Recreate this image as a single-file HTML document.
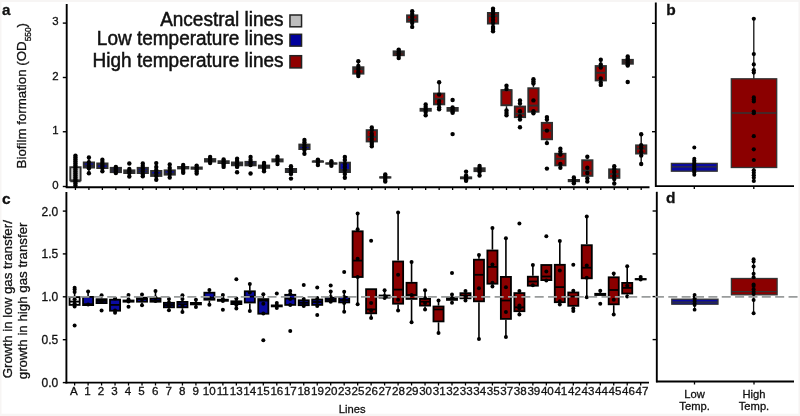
<!DOCTYPE html><html><head><meta charset="utf-8"><style>
html,body{margin:0;padding:0;background:#fff;}
body{width:800px;height:416px;overflow:hidden;position:relative;}
svg{position:absolute;left:0;top:0;will-change:transform;}
text{font-family:"Liberation Sans",sans-serif;fill:#111;stroke:#111;stroke-width:0.3px;}
text.lg{stroke-width:0.5px;}
</style></head><body>
<svg width="800" height="416" viewBox="0 0 800 416">
<rect x="0" y="0" width="800" height="416" fill="#fff"/>
<rect x="0" y="0" width="800" height="2" fill="#f7f5f4"/>
<rect x="0" y="413.7" width="800" height="2.3" fill="#f7f5f4"/>
<rect x="0" y="0" width="1.5" height="416" fill="#f7f5f4"/>
<rect x="798.5" y="0" width="1.5" height="416" fill="#f6f4f3"/>
<line x1="62.8" y1="186.5" x2="66" y2="186.5" stroke="#000" stroke-width="1.4"/>
<text x="58.6" y="189.2" font-size="11.4" text-anchor="end">0</text>
<line x1="62.8" y1="131.75" x2="66" y2="131.75" stroke="#000" stroke-width="1.4"/>
<text x="58.6" y="133.9" font-size="11.4" text-anchor="end">1</text>
<line x1="62.8" y1="77.5" x2="66" y2="77.5" stroke="#000" stroke-width="1.4"/>
<text x="58.6" y="79.7" font-size="11.4" text-anchor="end">2</text>
<line x1="62.8" y1="23.1" x2="66" y2="23.1" stroke="#000" stroke-width="1.4"/>
<text x="58.6" y="24.8" font-size="11.4" text-anchor="end">3</text>
<line x1="75.44" y1="187" x2="75.44" y2="190" stroke="#000" stroke-width="1.3"/>
<line x1="88.91" y1="187" x2="88.91" y2="190" stroke="#000" stroke-width="1.3"/>
<line x1="102.38" y1="187" x2="102.38" y2="190" stroke="#000" stroke-width="1.3"/>
<line x1="115.85" y1="187" x2="115.85" y2="190" stroke="#000" stroke-width="1.3"/>
<line x1="129.32" y1="187" x2="129.32" y2="190" stroke="#000" stroke-width="1.3"/>
<line x1="142.79" y1="187" x2="142.79" y2="190" stroke="#000" stroke-width="1.3"/>
<line x1="156.26" y1="187" x2="156.26" y2="190" stroke="#000" stroke-width="1.3"/>
<line x1="169.73" y1="187" x2="169.73" y2="190" stroke="#000" stroke-width="1.3"/>
<line x1="183.20" y1="187" x2="183.20" y2="190" stroke="#000" stroke-width="1.3"/>
<line x1="196.67" y1="187" x2="196.67" y2="190" stroke="#000" stroke-width="1.3"/>
<line x1="210.14" y1="187" x2="210.14" y2="190" stroke="#000" stroke-width="1.3"/>
<line x1="223.62" y1="187" x2="223.62" y2="190" stroke="#000" stroke-width="1.3"/>
<line x1="237.09" y1="187" x2="237.09" y2="190" stroke="#000" stroke-width="1.3"/>
<line x1="250.56" y1="187" x2="250.56" y2="190" stroke="#000" stroke-width="1.3"/>
<line x1="264.03" y1="187" x2="264.03" y2="190" stroke="#000" stroke-width="1.3"/>
<line x1="277.50" y1="187" x2="277.50" y2="190" stroke="#000" stroke-width="1.3"/>
<line x1="290.97" y1="187" x2="290.97" y2="190" stroke="#000" stroke-width="1.3"/>
<line x1="304.44" y1="187" x2="304.44" y2="190" stroke="#000" stroke-width="1.3"/>
<line x1="317.91" y1="187" x2="317.91" y2="190" stroke="#000" stroke-width="1.3"/>
<line x1="331.38" y1="187" x2="331.38" y2="190" stroke="#000" stroke-width="1.3"/>
<line x1="344.85" y1="187" x2="344.85" y2="190" stroke="#000" stroke-width="1.3"/>
<line x1="358.32" y1="187" x2="358.32" y2="190" stroke="#000" stroke-width="1.3"/>
<line x1="371.79" y1="187" x2="371.79" y2="190" stroke="#000" stroke-width="1.3"/>
<line x1="385.26" y1="187" x2="385.26" y2="190" stroke="#000" stroke-width="1.3"/>
<line x1="398.73" y1="187" x2="398.73" y2="190" stroke="#000" stroke-width="1.3"/>
<line x1="412.20" y1="187" x2="412.20" y2="190" stroke="#000" stroke-width="1.3"/>
<line x1="425.67" y1="187" x2="425.67" y2="190" stroke="#000" stroke-width="1.3"/>
<line x1="439.14" y1="187" x2="439.14" y2="190" stroke="#000" stroke-width="1.3"/>
<line x1="452.61" y1="187" x2="452.61" y2="190" stroke="#000" stroke-width="1.3"/>
<line x1="466.08" y1="187" x2="466.08" y2="190" stroke="#000" stroke-width="1.3"/>
<line x1="479.56" y1="187" x2="479.56" y2="190" stroke="#000" stroke-width="1.3"/>
<line x1="493.03" y1="187" x2="493.03" y2="190" stroke="#000" stroke-width="1.3"/>
<line x1="506.50" y1="187" x2="506.50" y2="190" stroke="#000" stroke-width="1.3"/>
<line x1="519.97" y1="187" x2="519.97" y2="190" stroke="#000" stroke-width="1.3"/>
<line x1="533.44" y1="187" x2="533.44" y2="190" stroke="#000" stroke-width="1.3"/>
<line x1="546.91" y1="187" x2="546.91" y2="190" stroke="#000" stroke-width="1.3"/>
<line x1="560.38" y1="187" x2="560.38" y2="190" stroke="#000" stroke-width="1.3"/>
<line x1="573.85" y1="187" x2="573.85" y2="190" stroke="#000" stroke-width="1.3"/>
<line x1="587.32" y1="187" x2="587.32" y2="190" stroke="#000" stroke-width="1.3"/>
<line x1="600.79" y1="187" x2="600.79" y2="190" stroke="#000" stroke-width="1.3"/>
<line x1="614.26" y1="187" x2="614.26" y2="190" stroke="#000" stroke-width="1.3"/>
<line x1="627.73" y1="187" x2="627.73" y2="190" stroke="#000" stroke-width="1.3"/>
<line x1="641.20" y1="187" x2="641.20" y2="190" stroke="#000" stroke-width="1.3"/>
<line x1="75.44" y1="155.60" x2="75.44" y2="166.30" stroke="#111" stroke-width="1.4"/>
<line x1="75.44" y1="181.30" x2="75.44" y2="185.60" stroke="#111" stroke-width="1.4"/>
<rect x="70.29" y="167.25" width="10.30" height="13.10" fill="#d2d2d2" stroke="#2e2e2e" stroke-width="1.9"/>
<line x1="70.29" y1="181.30" x2="80.59" y2="181.30" stroke="#2e2e2e" stroke-width="1.9"/>
<circle cx="75.44" cy="155.60" r="2.2"/>
<circle cx="75.44" cy="157.50" r="2.2"/>
<circle cx="75.44" cy="159.50" r="2.2"/>
<circle cx="75.44" cy="161.50" r="2.2"/>
<circle cx="75.44" cy="163.50" r="2.2"/>
<circle cx="75.44" cy="165.50" r="2.2"/>
<circle cx="75.44" cy="167.50" r="2.2"/>
<circle cx="75.44" cy="169.50" r="2.2"/>
<circle cx="75.44" cy="171.50" r="2.2"/>
<circle cx="75.44" cy="173.50" r="2.2"/>
<circle cx="75.44" cy="175.50" r="2.2"/>
<circle cx="75.44" cy="177.50" r="2.2"/>
<circle cx="75.44" cy="179.50" r="2.2"/>
<circle cx="75.44" cy="181.50" r="2.2"/>
<circle cx="75.44" cy="183.50" r="2.2"/>
<circle cx="75.44" cy="185.60" r="2.2"/>
<line x1="88.91" y1="157.50" x2="88.91" y2="161.50" stroke="#111" stroke-width="1.4"/>
<line x1="88.91" y1="168.50" x2="88.91" y2="173.20" stroke="#111" stroke-width="1.4"/>
<rect x="83.76" y="162.45" width="10.30" height="5.10" fill="#0c0ca4" stroke="#2e2e2e" stroke-width="1.9"/>
<line x1="83.76" y1="165.60" x2="94.06" y2="165.60" stroke="#2e2e2e" stroke-width="1.9"/>
<circle cx="88.91" cy="157.50" r="2.2"/>
<circle cx="88.91" cy="162.20" r="2.2"/>
<circle cx="88.91" cy="165.80" r="2.2"/>
<circle cx="88.91" cy="168.30" r="2.2"/>
<circle cx="88.91" cy="173.20" r="2.2"/>
<line x1="102.38" y1="159.75" x2="102.38" y2="162.50" stroke="#111" stroke-width="1.4"/>
<line x1="102.38" y1="169.00" x2="102.38" y2="171.25" stroke="#111" stroke-width="1.4"/>
<rect x="97.23" y="163.45" width="10.30" height="4.60" fill="#0c0ca4" stroke="#2e2e2e" stroke-width="1.9"/>
<line x1="97.23" y1="164.40" x2="107.53" y2="164.40" stroke="#2e2e2e" stroke-width="1.9"/>
<circle cx="102.38" cy="159.75" r="2.2"/>
<circle cx="102.38" cy="162.00" r="2.2"/>
<circle cx="102.38" cy="164.00" r="2.2"/>
<circle cx="102.38" cy="166.00" r="2.2"/>
<circle cx="102.38" cy="168.00" r="2.2"/>
<circle cx="102.38" cy="171.25" r="2.2"/>
<rect x="110.70" y="167.85" width="10.30" height="4.30" fill="#0c0ca4" stroke="#2e2e2e" stroke-width="1.9"/>
<line x1="110.70" y1="170.00" x2="121.00" y2="170.00" stroke="#2e2e2e" stroke-width="1.9"/>
<circle cx="115.85" cy="167.00" r="2.2"/>
<circle cx="115.85" cy="169.00" r="2.2"/>
<circle cx="115.85" cy="171.00" r="2.2"/>
<circle cx="115.85" cy="173.00" r="2.2"/>
<line x1="129.32" y1="169.00" x2="129.32" y2="169.40" stroke="#111" stroke-width="1.4"/>
<line x1="129.32" y1="174.00" x2="129.32" y2="176.50" stroke="#111" stroke-width="1.4"/>
<rect x="124.17" y="170.35" width="10.30" height="2.70" fill="#0c0ca4" stroke="#2e2e2e" stroke-width="1.9"/>
<line x1="124.17" y1="172.00" x2="134.47" y2="172.00" stroke="#2e2e2e" stroke-width="1.9"/>
<circle cx="129.32" cy="169.00" r="2.2"/>
<circle cx="129.32" cy="171.00" r="2.2"/>
<circle cx="129.32" cy="173.00" r="2.2"/>
<circle cx="129.32" cy="176.50" r="2.2"/>
<circle cx="129.32" cy="163.50" r="2.2"/>
<line x1="142.79" y1="163.50" x2="142.79" y2="166.90" stroke="#111" stroke-width="1.4"/>
<line x1="142.79" y1="174.00" x2="142.79" y2="176.25" stroke="#111" stroke-width="1.4"/>
<rect x="137.64" y="167.85" width="10.30" height="5.20" fill="#0c0ca4" stroke="#2e2e2e" stroke-width="1.9"/>
<line x1="137.64" y1="170.50" x2="147.94" y2="170.50" stroke="#2e2e2e" stroke-width="1.9"/>
<circle cx="142.79" cy="163.50" r="2.2"/>
<circle cx="142.79" cy="166.00" r="2.2"/>
<circle cx="142.79" cy="168.50" r="2.2"/>
<circle cx="142.79" cy="171.00" r="2.2"/>
<circle cx="142.79" cy="174.00" r="2.2"/>
<circle cx="142.79" cy="176.25" r="2.2"/>
<line x1="156.26" y1="163.10" x2="156.26" y2="170.00" stroke="#111" stroke-width="1.4"/>
<line x1="156.26" y1="176.90" x2="156.26" y2="179.75" stroke="#111" stroke-width="1.4"/>
<rect x="151.11" y="170.95" width="10.30" height="5.00" fill="#0c0ca4" stroke="#2e2e2e" stroke-width="1.9"/>
<line x1="151.11" y1="174.40" x2="161.41" y2="174.40" stroke="#2e2e2e" stroke-width="1.9"/>
<circle cx="156.26" cy="163.10" r="2.2"/>
<circle cx="156.26" cy="167.00" r="2.2"/>
<circle cx="156.26" cy="170.00" r="2.2"/>
<circle cx="156.26" cy="173.00" r="2.2"/>
<circle cx="156.26" cy="176.00" r="2.2"/>
<circle cx="156.26" cy="179.75" r="2.2"/>
<line x1="169.73" y1="164.40" x2="169.73" y2="169.40" stroke="#111" stroke-width="1.4"/>
<line x1="169.73" y1="175.60" x2="169.73" y2="177.50" stroke="#111" stroke-width="1.4"/>
<rect x="164.58" y="170.35" width="10.30" height="4.30" fill="#0c0ca4" stroke="#2e2e2e" stroke-width="1.9"/>
<line x1="164.58" y1="173.50" x2="174.88" y2="173.50" stroke="#2e2e2e" stroke-width="1.9"/>
<circle cx="169.73" cy="164.40" r="2.2"/>
<circle cx="169.73" cy="168.00" r="2.2"/>
<circle cx="169.73" cy="171.00" r="2.2"/>
<circle cx="169.73" cy="174.00" r="2.2"/>
<circle cx="169.73" cy="177.50" r="2.2"/>
<line x1="183.20" y1="165.00" x2="183.20" y2="166.00" stroke="#111" stroke-width="1.4"/>
<line x1="183.20" y1="169.40" x2="183.20" y2="172.75" stroke="#111" stroke-width="1.4"/>
<rect x="178.05" y="166.95" width="10.30" height="1.50" fill="#0c0ca4" stroke="#2e2e2e" stroke-width="1.9"/>
<line x1="178.05" y1="167.70" x2="188.35" y2="167.70" stroke="#2e2e2e" stroke-width="1.9"/>
<circle cx="183.20" cy="165.00" r="2.2"/>
<circle cx="183.20" cy="167.00" r="2.2"/>
<circle cx="183.20" cy="169.00" r="2.2"/>
<circle cx="183.20" cy="171.00" r="2.2"/>
<circle cx="183.20" cy="172.75" r="2.2"/>
<line x1="196.67" y1="165.60" x2="196.67" y2="166.50" stroke="#111" stroke-width="1.4"/>
<line x1="196.67" y1="169.75" x2="196.67" y2="173.50" stroke="#111" stroke-width="1.4"/>
<rect x="191.52" y="167.45" width="10.30" height="1.35" fill="#0c0ca4" stroke="#2e2e2e" stroke-width="1.9"/>
<line x1="191.52" y1="168.00" x2="201.82" y2="168.00" stroke="#2e2e2e" stroke-width="1.9"/>
<circle cx="196.67" cy="165.60" r="2.2"/>
<circle cx="196.67" cy="167.50" r="2.2"/>
<circle cx="196.67" cy="169.50" r="2.2"/>
<circle cx="196.67" cy="171.50" r="2.2"/>
<circle cx="196.67" cy="173.50" r="2.2"/>
<line x1="210.14" y1="156.90" x2="210.14" y2="158.10" stroke="#111" stroke-width="1.4"/>
<line x1="210.14" y1="162.50" x2="210.14" y2="163.10" stroke="#111" stroke-width="1.4"/>
<rect x="204.99" y="159.05" width="10.30" height="2.50" fill="#0c0ca4" stroke="#2e2e2e" stroke-width="1.9"/>
<line x1="204.99" y1="160.30" x2="215.29" y2="160.30" stroke="#2e2e2e" stroke-width="1.9"/>
<circle cx="210.14" cy="156.90" r="2.2"/>
<circle cx="210.14" cy="159.00" r="2.2"/>
<circle cx="210.14" cy="161.00" r="2.2"/>
<circle cx="210.14" cy="163.10" r="2.2"/>
<line x1="223.62" y1="159.40" x2="223.62" y2="160.25" stroke="#111" stroke-width="1.4"/>
<line x1="223.62" y1="164.00" x2="223.62" y2="166.90" stroke="#111" stroke-width="1.4"/>
<rect x="218.47" y="161.20" width="10.30" height="1.85" fill="#0c0ca4" stroke="#2e2e2e" stroke-width="1.9"/>
<line x1="218.47" y1="162.00" x2="228.77" y2="162.00" stroke="#2e2e2e" stroke-width="1.9"/>
<circle cx="223.62" cy="159.40" r="2.2"/>
<circle cx="223.62" cy="161.50" r="2.2"/>
<circle cx="223.62" cy="163.50" r="2.2"/>
<circle cx="223.62" cy="165.00" r="2.2"/>
<circle cx="223.62" cy="166.90" r="2.2"/>
<line x1="237.09" y1="158.75" x2="237.09" y2="161.50" stroke="#111" stroke-width="1.4"/>
<line x1="237.09" y1="166.25" x2="237.09" y2="166.90" stroke="#111" stroke-width="1.4"/>
<rect x="231.94" y="162.45" width="10.30" height="2.85" fill="#0c0ca4" stroke="#2e2e2e" stroke-width="1.9"/>
<line x1="231.94" y1="164.00" x2="242.24" y2="164.00" stroke="#2e2e2e" stroke-width="1.9"/>
<circle cx="237.09" cy="158.75" r="2.2"/>
<circle cx="237.09" cy="161.00" r="2.2"/>
<circle cx="237.09" cy="163.50" r="2.2"/>
<circle cx="237.09" cy="166.00" r="2.2"/>
<circle cx="237.09" cy="166.90" r="2.2"/>
<circle cx="237.09" cy="172.25" r="2.2"/>
<line x1="250.56" y1="157.00" x2="250.56" y2="160.90" stroke="#111" stroke-width="1.4"/>
<rect x="245.41" y="161.85" width="10.30" height="3.50" fill="#0c0ca4" stroke="#2e2e2e" stroke-width="1.9"/>
<line x1="245.41" y1="164.10" x2="255.71" y2="164.10" stroke="#2e2e2e" stroke-width="1.9"/>
<circle cx="250.56" cy="157.00" r="2.2"/>
<circle cx="250.56" cy="160.00" r="2.2"/>
<circle cx="250.56" cy="162.50" r="2.2"/>
<circle cx="250.56" cy="165.00" r="2.2"/>
<circle cx="250.56" cy="173.50" r="2.2"/>
<line x1="264.03" y1="162.90" x2="264.03" y2="164.60" stroke="#111" stroke-width="1.4"/>
<line x1="264.03" y1="168.80" x2="264.03" y2="171.30" stroke="#111" stroke-width="1.4"/>
<rect x="258.88" y="165.55" width="10.30" height="2.30" fill="#0c0ca4" stroke="#2e2e2e" stroke-width="1.9"/>
<line x1="258.88" y1="166.80" x2="269.18" y2="166.80" stroke="#2e2e2e" stroke-width="1.9"/>
<circle cx="264.03" cy="162.90" r="2.2"/>
<circle cx="264.03" cy="165.00" r="2.2"/>
<circle cx="264.03" cy="167.00" r="2.2"/>
<circle cx="264.03" cy="169.00" r="2.2"/>
<circle cx="264.03" cy="171.30" r="2.2"/>
<line x1="277.50" y1="156.70" x2="277.50" y2="158.40" stroke="#111" stroke-width="1.4"/>
<line x1="277.50" y1="162.40" x2="277.50" y2="164.10" stroke="#111" stroke-width="1.4"/>
<rect x="272.35" y="159.35" width="10.30" height="2.10" fill="#0c0ca4" stroke="#2e2e2e" stroke-width="1.9"/>
<line x1="272.35" y1="160.40" x2="282.65" y2="160.40" stroke="#2e2e2e" stroke-width="1.9"/>
<circle cx="277.50" cy="156.70" r="2.2"/>
<circle cx="277.50" cy="159.00" r="2.2"/>
<circle cx="277.50" cy="161.00" r="2.2"/>
<circle cx="277.50" cy="164.10" r="2.2"/>
<line x1="290.97" y1="166.30" x2="290.97" y2="168.00" stroke="#111" stroke-width="1.4"/>
<line x1="290.97" y1="173.00" x2="290.97" y2="173.90" stroke="#111" stroke-width="1.4"/>
<rect x="285.82" y="168.95" width="10.30" height="3.10" fill="#0c0ca4" stroke="#2e2e2e" stroke-width="1.9"/>
<line x1="285.82" y1="170.50" x2="296.12" y2="170.50" stroke="#2e2e2e" stroke-width="1.9"/>
<circle cx="290.97" cy="166.30" r="2.2"/>
<circle cx="290.97" cy="168.50" r="2.2"/>
<circle cx="290.97" cy="170.50" r="2.2"/>
<circle cx="290.97" cy="172.50" r="2.2"/>
<circle cx="290.97" cy="173.90" r="2.2"/>
<circle cx="290.97" cy="178.60" r="2.2"/>
<line x1="304.44" y1="139.90" x2="304.44" y2="143.60" stroke="#111" stroke-width="1.4"/>
<line x1="304.44" y1="150.00" x2="304.44" y2="153.70" stroke="#111" stroke-width="1.4"/>
<rect x="299.29" y="144.55" width="10.30" height="4.50" fill="#0c0ca4" stroke="#2e2e2e" stroke-width="1.9"/>
<line x1="299.29" y1="146.10" x2="309.59" y2="146.10" stroke="#2e2e2e" stroke-width="1.9"/>
<circle cx="304.44" cy="139.90" r="2.2"/>
<circle cx="304.44" cy="142.50" r="2.2"/>
<circle cx="304.44" cy="145.00" r="2.2"/>
<circle cx="304.44" cy="147.50" r="2.2"/>
<circle cx="304.44" cy="150.00" r="2.2"/>
<circle cx="304.44" cy="153.70" r="2.2"/>
<line x1="317.91" y1="159.60" x2="317.91" y2="160.50" stroke="#111" stroke-width="1.4"/>
<line x1="317.91" y1="162.00" x2="317.91" y2="165.10" stroke="#111" stroke-width="1.4"/>
<rect x="312.76" y="161.45" width="10.30" height="0.30" fill="#0c0ca4" stroke="#2e2e2e" stroke-width="1.9"/>
<line x1="312.76" y1="161.30" x2="323.06" y2="161.30" stroke="#2e2e2e" stroke-width="1.9"/>
<circle cx="317.91" cy="159.60" r="2.2"/>
<circle cx="317.91" cy="161.00" r="2.2"/>
<circle cx="317.91" cy="162.50" r="2.2"/>
<circle cx="317.91" cy="165.10" r="2.2"/>
<line x1="331.38" y1="161.20" x2="331.38" y2="162.40" stroke="#111" stroke-width="1.4"/>
<line x1="331.38" y1="164.60" x2="331.38" y2="165.80" stroke="#111" stroke-width="1.4"/>
<rect x="326.23" y="163.35" width="10.30" height="0.30" fill="#0c0ca4" stroke="#2e2e2e" stroke-width="1.9"/>
<line x1="326.23" y1="163.50" x2="336.53" y2="163.50" stroke="#2e2e2e" stroke-width="1.9"/>
<circle cx="331.38" cy="161.20" r="2.2"/>
<circle cx="331.38" cy="163.00" r="2.2"/>
<circle cx="331.38" cy="165.80" r="2.2"/>
<line x1="344.85" y1="157.00" x2="344.85" y2="161.70" stroke="#111" stroke-width="1.4"/>
<line x1="344.85" y1="173.00" x2="344.85" y2="177.80" stroke="#111" stroke-width="1.4"/>
<rect x="339.70" y="162.65" width="10.30" height="9.40" fill="#0c0ca4" stroke="#2e2e2e" stroke-width="1.9"/>
<line x1="339.70" y1="170.00" x2="350.00" y2="170.00" stroke="#2e2e2e" stroke-width="1.9"/>
<circle cx="344.85" cy="157.00" r="2.2"/>
<circle cx="344.85" cy="160.00" r="2.2"/>
<circle cx="344.85" cy="164.00" r="2.2"/>
<circle cx="344.85" cy="167.00" r="2.2"/>
<circle cx="344.85" cy="170.00" r="2.2"/>
<circle cx="344.85" cy="174.00" r="2.2"/>
<circle cx="344.85" cy="177.80" r="2.2"/>
<line x1="358.32" y1="61.20" x2="358.32" y2="66.30" stroke="#111" stroke-width="1.4"/>
<line x1="358.32" y1="74.60" x2="358.32" y2="76.00" stroke="#111" stroke-width="1.4"/>
<rect x="353.17" y="67.25" width="10.30" height="6.40" fill="#9c0000" stroke="#2e2e2e" stroke-width="1.9"/>
<line x1="353.17" y1="69.20" x2="363.47" y2="69.20" stroke="#2e2e2e" stroke-width="1.9"/>
<circle cx="358.32" cy="61.20" r="2.2"/>
<circle cx="358.32" cy="66.00" r="2.2"/>
<circle cx="358.32" cy="69.00" r="2.2"/>
<circle cx="358.32" cy="72.00" r="2.2"/>
<circle cx="358.32" cy="74.00" r="2.2"/>
<circle cx="358.32" cy="76.00" r="2.2"/>
<line x1="371.79" y1="127.50" x2="371.79" y2="129.20" stroke="#111" stroke-width="1.4"/>
<line x1="371.79" y1="142.40" x2="371.79" y2="146.25" stroke="#111" stroke-width="1.4"/>
<rect x="366.64" y="130.15" width="10.30" height="11.30" fill="#9c0000" stroke="#2e2e2e" stroke-width="1.9"/>
<line x1="366.64" y1="136.90" x2="376.94" y2="136.90" stroke="#2e2e2e" stroke-width="1.9"/>
<circle cx="371.79" cy="127.50" r="2.2"/>
<circle cx="371.79" cy="130.00" r="2.2"/>
<circle cx="371.79" cy="133.75" r="2.2"/>
<circle cx="371.79" cy="136.00" r="2.2"/>
<circle cx="371.79" cy="139.00" r="2.2"/>
<circle cx="371.79" cy="142.00" r="2.2"/>
<circle cx="371.79" cy="144.00" r="2.2"/>
<circle cx="371.79" cy="146.25" r="2.2"/>
<line x1="385.26" y1="174.40" x2="385.26" y2="176.30" stroke="#111" stroke-width="1.4"/>
<line x1="385.26" y1="178.50" x2="385.26" y2="181.60" stroke="#111" stroke-width="1.4"/>
<rect x="380.11" y="177.25" width="10.30" height="0.30" fill="#9c0000" stroke="#2e2e2e" stroke-width="1.9"/>
<line x1="380.11" y1="177.40" x2="390.41" y2="177.40" stroke="#2e2e2e" stroke-width="1.9"/>
<circle cx="385.26" cy="174.40" r="2.2"/>
<circle cx="385.26" cy="176.00" r="2.2"/>
<circle cx="385.26" cy="178.00" r="2.2"/>
<circle cx="385.26" cy="180.00" r="2.2"/>
<circle cx="385.26" cy="181.60" r="2.2"/>
<line x1="398.73" y1="49.60" x2="398.73" y2="50.40" stroke="#111" stroke-width="1.4"/>
<line x1="398.73" y1="56.20" x2="398.73" y2="58.10" stroke="#111" stroke-width="1.4"/>
<rect x="393.58" y="51.35" width="10.30" height="3.90" fill="#9c0000" stroke="#2e2e2e" stroke-width="1.9"/>
<line x1="393.58" y1="52.90" x2="403.88" y2="52.90" stroke="#2e2e2e" stroke-width="1.9"/>
<circle cx="398.73" cy="49.60" r="2.2"/>
<circle cx="398.73" cy="51.50" r="2.2"/>
<circle cx="398.73" cy="53.50" r="2.2"/>
<circle cx="398.73" cy="55.50" r="2.2"/>
<circle cx="398.73" cy="58.10" r="2.2"/>
<line x1="412.20" y1="11.20" x2="412.20" y2="14.40" stroke="#111" stroke-width="1.4"/>
<line x1="412.20" y1="22.70" x2="412.20" y2="26.90" stroke="#111" stroke-width="1.4"/>
<rect x="407.05" y="15.35" width="10.30" height="6.40" fill="#9c0000" stroke="#2e2e2e" stroke-width="1.9"/>
<line x1="407.05" y1="19.20" x2="417.35" y2="19.20" stroke="#2e2e2e" stroke-width="1.9"/>
<circle cx="412.20" cy="11.20" r="2.2"/>
<circle cx="412.20" cy="14.00" r="2.2"/>
<circle cx="412.20" cy="17.00" r="2.2"/>
<circle cx="412.20" cy="20.00" r="2.2"/>
<circle cx="412.20" cy="23.00" r="2.2"/>
<circle cx="412.20" cy="26.90" r="2.2"/>
<line x1="425.67" y1="104.50" x2="425.67" y2="107.90" stroke="#111" stroke-width="1.4"/>
<line x1="425.67" y1="111.70" x2="425.67" y2="115.30" stroke="#111" stroke-width="1.4"/>
<rect x="420.52" y="108.85" width="10.30" height="1.90" fill="#9c0000" stroke="#2e2e2e" stroke-width="1.9"/>
<line x1="420.52" y1="109.80" x2="430.82" y2="109.80" stroke="#2e2e2e" stroke-width="1.9"/>
<circle cx="425.67" cy="104.50" r="2.2"/>
<circle cx="425.67" cy="107.00" r="2.2"/>
<circle cx="425.67" cy="109.50" r="2.2"/>
<circle cx="425.67" cy="112.00" r="2.2"/>
<circle cx="425.67" cy="115.30" r="2.2"/>
<line x1="439.14" y1="82.20" x2="439.14" y2="92.60" stroke="#111" stroke-width="1.4"/>
<line x1="439.14" y1="105.30" x2="439.14" y2="109.30" stroke="#111" stroke-width="1.4"/>
<rect x="433.99" y="93.55" width="10.30" height="10.80" fill="#9c0000" stroke="#2e2e2e" stroke-width="1.9"/>
<line x1="433.99" y1="98.80" x2="444.29" y2="98.80" stroke="#2e2e2e" stroke-width="1.9"/>
<circle cx="439.14" cy="82.20" r="2.2"/>
<circle cx="439.14" cy="94.50" r="2.2"/>
<circle cx="439.14" cy="101.10" r="2.2"/>
<circle cx="439.14" cy="104.00" r="2.2"/>
<circle cx="439.14" cy="107.50" r="2.2"/>
<circle cx="439.14" cy="109.30" r="2.2"/>
<line x1="452.61" y1="111.70" x2="452.61" y2="112.80" stroke="#111" stroke-width="1.4"/>
<rect x="447.46" y="107.95" width="10.30" height="2.80" fill="#9c0000" stroke="#2e2e2e" stroke-width="1.9"/>
<line x1="447.46" y1="109.30" x2="457.76" y2="109.30" stroke="#2e2e2e" stroke-width="1.9"/>
<circle cx="452.61" cy="107.50" r="2.2"/>
<circle cx="452.61" cy="109.50" r="2.2"/>
<circle cx="452.61" cy="111.50" r="2.2"/>
<circle cx="452.61" cy="112.80" r="2.2"/>
<circle cx="452.61" cy="100.00" r="2.2"/>
<circle cx="452.61" cy="134.10" r="2.2"/>
<line x1="466.08" y1="175.50" x2="466.08" y2="176.40" stroke="#111" stroke-width="1.4"/>
<line x1="466.08" y1="179.30" x2="466.08" y2="180.80" stroke="#111" stroke-width="1.4"/>
<rect x="460.93" y="177.35" width="10.30" height="1.00" fill="#9c0000" stroke="#2e2e2e" stroke-width="1.9"/>
<line x1="460.93" y1="177.80" x2="471.23" y2="177.80" stroke="#2e2e2e" stroke-width="1.9"/>
<circle cx="466.08" cy="175.50" r="2.2"/>
<circle cx="466.08" cy="177.50" r="2.2"/>
<circle cx="466.08" cy="179.50" r="2.2"/>
<circle cx="466.08" cy="180.80" r="2.2"/>
<circle cx="466.08" cy="171.60" r="2.2"/>
<line x1="479.56" y1="165.90" x2="479.56" y2="167.30" stroke="#111" stroke-width="1.4"/>
<line x1="479.56" y1="172.10" x2="479.56" y2="175.50" stroke="#111" stroke-width="1.4"/>
<rect x="474.41" y="168.25" width="10.30" height="2.90" fill="#9c0000" stroke="#2e2e2e" stroke-width="1.9"/>
<line x1="474.41" y1="169.70" x2="484.70" y2="169.70" stroke="#2e2e2e" stroke-width="1.9"/>
<circle cx="479.56" cy="165.90" r="2.2"/>
<circle cx="479.56" cy="168.00" r="2.2"/>
<circle cx="479.56" cy="170.00" r="2.2"/>
<circle cx="479.56" cy="172.00" r="2.2"/>
<circle cx="479.56" cy="175.50" r="2.2"/>
<line x1="493.03" y1="8.70" x2="493.03" y2="12.00" stroke="#111" stroke-width="1.4"/>
<line x1="493.03" y1="24.50" x2="493.03" y2="31.25" stroke="#111" stroke-width="1.4"/>
<rect x="487.88" y="12.95" width="10.30" height="10.60" fill="#9c0000" stroke="#2e2e2e" stroke-width="1.9"/>
<line x1="487.88" y1="15.90" x2="498.18" y2="15.90" stroke="#2e2e2e" stroke-width="1.9"/>
<circle cx="493.03" cy="8.70" r="2.2"/>
<circle cx="493.03" cy="11.00" r="2.2"/>
<circle cx="493.03" cy="14.00" r="2.2"/>
<circle cx="493.03" cy="17.00" r="2.2"/>
<circle cx="493.03" cy="20.00" r="2.2"/>
<circle cx="493.03" cy="23.00" r="2.2"/>
<circle cx="493.03" cy="27.00" r="2.2"/>
<circle cx="493.03" cy="29.00" r="2.2"/>
<circle cx="493.03" cy="31.25" r="2.2"/>
<line x1="506.50" y1="85.80" x2="506.50" y2="89.20" stroke="#111" stroke-width="1.4"/>
<line x1="506.50" y1="106.20" x2="506.50" y2="115.20" stroke="#111" stroke-width="1.4"/>
<rect x="501.35" y="90.15" width="10.30" height="15.10" fill="#9c0000" stroke="#2e2e2e" stroke-width="1.9"/>
<line x1="501.35" y1="90.20" x2="511.65" y2="90.20" stroke="#2e2e2e" stroke-width="1.9"/>
<circle cx="506.50" cy="85.80" r="2.2"/>
<circle cx="506.50" cy="89.00" r="2.2"/>
<circle cx="506.50" cy="110.40" r="2.2"/>
<circle cx="506.50" cy="113.00" r="2.2"/>
<circle cx="506.50" cy="115.20" r="2.2"/>
<line x1="519.97" y1="100.40" x2="519.97" y2="105.60" stroke="#111" stroke-width="1.4"/>
<line x1="519.97" y1="118.10" x2="519.97" y2="119.60" stroke="#111" stroke-width="1.4"/>
<rect x="514.82" y="106.55" width="10.30" height="10.60" fill="#9c0000" stroke="#2e2e2e" stroke-width="1.9"/>
<line x1="514.82" y1="113.80" x2="525.12" y2="113.80" stroke="#2e2e2e" stroke-width="1.9"/>
<circle cx="519.97" cy="100.40" r="2.2"/>
<circle cx="519.97" cy="103.50" r="2.2"/>
<circle cx="519.97" cy="111.30" r="2.2"/>
<circle cx="519.97" cy="116.20" r="2.2"/>
<circle cx="519.97" cy="119.60" r="2.2"/>
<circle cx="519.97" cy="127.30" r="2.2"/>
<line x1="533.44" y1="79.20" x2="533.44" y2="87.30" stroke="#111" stroke-width="1.4"/>
<line x1="533.44" y1="112.70" x2="533.44" y2="113.30" stroke="#111" stroke-width="1.4"/>
<rect x="528.29" y="88.25" width="10.30" height="23.50" fill="#9c0000" stroke="#2e2e2e" stroke-width="1.9"/>
<line x1="528.29" y1="105.60" x2="538.59" y2="105.60" stroke="#2e2e2e" stroke-width="1.9"/>
<circle cx="533.44" cy="79.20" r="2.2"/>
<circle cx="533.44" cy="81.50" r="2.2"/>
<circle cx="533.44" cy="83.50" r="2.2"/>
<circle cx="533.44" cy="100.40" r="2.2"/>
<circle cx="533.44" cy="111.30" r="2.2"/>
<circle cx="533.44" cy="113.30" r="2.2"/>
<line x1="546.91" y1="117.10" x2="546.91" y2="121.90" stroke="#111" stroke-width="1.4"/>
<line x1="546.91" y1="140.20" x2="546.91" y2="143.10" stroke="#111" stroke-width="1.4"/>
<rect x="541.76" y="122.85" width="10.30" height="16.40" fill="#9c0000" stroke="#2e2e2e" stroke-width="1.9"/>
<line x1="541.76" y1="130.60" x2="552.06" y2="130.60" stroke="#2e2e2e" stroke-width="1.9"/>
<circle cx="546.91" cy="117.10" r="2.2"/>
<circle cx="546.91" cy="119.50" r="2.2"/>
<circle cx="546.91" cy="130.60" r="2.2"/>
<circle cx="546.91" cy="143.10" r="2.2"/>
<circle cx="546.91" cy="168.60" r="2.2"/>
<line x1="560.38" y1="148.70" x2="560.38" y2="152.80" stroke="#111" stroke-width="1.4"/>
<line x1="560.38" y1="166.30" x2="560.38" y2="167.80" stroke="#111" stroke-width="1.4"/>
<rect x="555.23" y="153.75" width="10.30" height="11.60" fill="#9c0000" stroke="#2e2e2e" stroke-width="1.9"/>
<line x1="555.23" y1="158.80" x2="565.53" y2="158.80" stroke="#2e2e2e" stroke-width="1.9"/>
<circle cx="560.38" cy="148.70" r="2.2"/>
<circle cx="560.38" cy="151.60" r="2.2"/>
<circle cx="560.38" cy="154.50" r="2.2"/>
<circle cx="560.38" cy="163.90" r="2.2"/>
<circle cx="560.38" cy="167.80" r="2.2"/>
<line x1="573.85" y1="177.50" x2="573.85" y2="179.00" stroke="#111" stroke-width="1.4"/>
<line x1="573.85" y1="182.20" x2="573.85" y2="183.30" stroke="#111" stroke-width="1.4"/>
<rect x="568.70" y="179.95" width="10.30" height="1.30" fill="#9c0000" stroke="#2e2e2e" stroke-width="1.9"/>
<line x1="568.70" y1="180.60" x2="579.00" y2="180.60" stroke="#2e2e2e" stroke-width="1.9"/>
<circle cx="573.85" cy="177.50" r="2.2"/>
<circle cx="573.85" cy="179.50" r="2.2"/>
<circle cx="573.85" cy="181.50" r="2.2"/>
<circle cx="573.85" cy="183.30" r="2.2"/>
<line x1="587.32" y1="156.70" x2="587.32" y2="159.30" stroke="#111" stroke-width="1.4"/>
<line x1="587.32" y1="176.80" x2="587.32" y2="181.60" stroke="#111" stroke-width="1.4"/>
<rect x="582.17" y="160.25" width="10.30" height="15.60" fill="#9c0000" stroke="#2e2e2e" stroke-width="1.9"/>
<line x1="582.17" y1="170.60" x2="592.47" y2="170.60" stroke="#2e2e2e" stroke-width="1.9"/>
<circle cx="587.32" cy="156.70" r="2.2"/>
<circle cx="587.32" cy="167.80" r="2.2"/>
<circle cx="587.32" cy="173.00" r="2.2"/>
<circle cx="587.32" cy="178.50" r="2.2"/>
<circle cx="587.32" cy="181.60" r="2.2"/>
<line x1="600.79" y1="59.80" x2="600.79" y2="65.10" stroke="#111" stroke-width="1.4"/>
<line x1="600.79" y1="81.40" x2="600.79" y2="84.90" stroke="#111" stroke-width="1.4"/>
<rect x="595.64" y="66.05" width="10.30" height="14.40" fill="#9c0000" stroke="#2e2e2e" stroke-width="1.9"/>
<line x1="595.64" y1="72.80" x2="605.94" y2="72.80" stroke="#2e2e2e" stroke-width="1.9"/>
<circle cx="600.79" cy="59.80" r="2.2"/>
<circle cx="600.79" cy="64.40" r="2.2"/>
<circle cx="600.79" cy="67.60" r="2.2"/>
<circle cx="600.79" cy="78.50" r="2.2"/>
<circle cx="600.79" cy="82.40" r="2.2"/>
<circle cx="600.79" cy="84.90" r="2.2"/>
<line x1="614.26" y1="166.20" x2="614.26" y2="168.40" stroke="#111" stroke-width="1.4"/>
<line x1="614.26" y1="178.80" x2="614.26" y2="183.50" stroke="#111" stroke-width="1.4"/>
<rect x="609.11" y="169.35" width="10.30" height="8.50" fill="#9c0000" stroke="#2e2e2e" stroke-width="1.9"/>
<line x1="609.11" y1="174.10" x2="619.41" y2="174.10" stroke="#2e2e2e" stroke-width="1.9"/>
<circle cx="614.26" cy="166.20" r="2.2"/>
<circle cx="614.26" cy="169.00" r="2.2"/>
<circle cx="614.26" cy="172.00" r="2.2"/>
<circle cx="614.26" cy="176.00" r="2.2"/>
<circle cx="614.26" cy="179.00" r="2.2"/>
<circle cx="614.26" cy="183.50" r="2.2"/>
<line x1="627.73" y1="56.50" x2="627.73" y2="58.90" stroke="#111" stroke-width="1.4"/>
<line x1="627.73" y1="64.70" x2="627.73" y2="65.60" stroke="#111" stroke-width="1.4"/>
<rect x="622.58" y="59.85" width="10.30" height="3.90" fill="#9c0000" stroke="#2e2e2e" stroke-width="1.9"/>
<line x1="622.58" y1="61.80" x2="632.88" y2="61.80" stroke="#2e2e2e" stroke-width="1.9"/>
<circle cx="627.73" cy="56.50" r="2.2"/>
<circle cx="627.73" cy="58.50" r="2.2"/>
<circle cx="627.73" cy="60.50" r="2.2"/>
<circle cx="627.73" cy="62.50" r="2.2"/>
<circle cx="627.73" cy="64.50" r="2.2"/>
<circle cx="627.73" cy="65.60" r="2.2"/>
<circle cx="627.73" cy="82.00" r="2.2"/>
<line x1="641.20" y1="134.30" x2="641.20" y2="144.40" stroke="#111" stroke-width="1.4"/>
<line x1="641.20" y1="154.50" x2="641.20" y2="164.00" stroke="#111" stroke-width="1.4"/>
<rect x="636.05" y="145.35" width="10.30" height="8.20" fill="#9c0000" stroke="#2e2e2e" stroke-width="1.9"/>
<line x1="636.05" y1="148.60" x2="646.35" y2="148.60" stroke="#2e2e2e" stroke-width="1.9"/>
<circle cx="641.20" cy="134.30" r="2.2"/>
<circle cx="641.20" cy="145.20" r="2.2"/>
<circle cx="641.20" cy="148.00" r="2.2"/>
<circle cx="641.20" cy="152.00" r="2.2"/>
<circle cx="641.20" cy="155.60" r="2.2"/>
<circle cx="641.20" cy="164.00" r="2.2"/>
<line x1="66.7" y1="4" x2="66.7" y2="188" stroke="#000" stroke-width="1.9"/>
<line x1="65.8" y1="187.3" x2="649.5" y2="187.3" stroke="#000" stroke-width="1.9"/>
<line x1="652" y1="23.3" x2="656" y2="23.3" stroke="#000" stroke-width="1.4"/>
<line x1="652" y1="77.1" x2="656" y2="77.1" stroke="#000" stroke-width="1.4"/>
<line x1="652" y1="131.7" x2="656" y2="131.7" stroke="#000" stroke-width="1.4"/>
<line x1="694.3" y1="186" x2="694.3" y2="189" stroke="#000" stroke-width="1.3"/>
<line x1="753.8" y1="186" x2="753.8" y2="189" stroke="#000" stroke-width="1.3"/>
<line x1="694.3" y1="158.8" x2="694.3" y2="175" stroke="#111" stroke-width="1.2"/>
<rect x="671.4" y="163.4" width="45.8" height="7.8" fill="#0a0aa0" stroke="#333" stroke-width="1.3"/>
<line x1="671.4" y1="166.8" x2="717.2" y2="166.8" stroke="#333" stroke-width="1.3"/>
<circle cx="694.3" cy="147.6" r="2"/>
<circle cx="694.3" cy="158.8" r="2"/>
<circle cx="694.3" cy="160.5" r="2"/>
<circle cx="694.3" cy="162" r="2"/>
<circle cx="694.3" cy="163.5" r="2"/>
<circle cx="694.3" cy="165" r="2"/>
<circle cx="694.3" cy="166.5" r="2"/>
<circle cx="694.3" cy="168" r="2"/>
<circle cx="694.3" cy="169.5" r="2"/>
<circle cx="694.3" cy="171" r="2"/>
<circle cx="694.3" cy="172.5" r="2"/>
<circle cx="694.3" cy="174.8" r="2"/>
<line x1="753.8" y1="18.75" x2="753.8" y2="181" stroke="#111" stroke-width="1.3"/>
<rect x="731.3" y="78.8" width="45.4" height="88.7" fill="#8b0000" stroke="#333" stroke-width="1.3"/>
<line x1="731.3" y1="113.0" x2="776.7" y2="113.0" stroke="#333" stroke-width="1.4"/>
<circle cx="753.8" cy="18.75" r="2.1"/>
<circle cx="753.8" cy="54.1" r="2.1"/>
<circle cx="753.8" cy="64.4" r="2.1"/>
<circle cx="753.8" cy="70.2" r="2.1"/>
<circle cx="753.8" cy="72.6" r="2.1"/>
<circle cx="753.8" cy="97.4" r="2.1"/>
<circle cx="753.8" cy="99.5" r="2.1"/>
<circle cx="753.8" cy="101.4" r="2.1"/>
<circle cx="753.8" cy="111.5" r="2.1"/>
<circle cx="753.8" cy="113.2" r="2.1"/>
<circle cx="753.8" cy="136.2" r="2.1"/>
<circle cx="753.8" cy="149.3" r="2.1"/>
<circle cx="753.8" cy="160" r="2.1"/>
<circle cx="753.8" cy="170.3" r="2.1"/>
<circle cx="753.8" cy="172.8" r="2.1"/>
<circle cx="753.8" cy="175.3" r="2.1"/>
<circle cx="753.8" cy="177.8" r="2.1"/>
<circle cx="753.8" cy="181" r="2.1"/>
<line x1="655.8" y1="2.5" x2="655.8" y2="187" stroke="#000" stroke-width="1.9"/>
<line x1="655" y1="186.1" x2="794" y2="186.1" stroke="#000" stroke-width="1.9"/>
<line x1="62.8" y1="382.6" x2="66" y2="382.6" stroke="#000" stroke-width="1.4"/>
<text x="58.3" y="387.1" font-size="12" text-anchor="end">0.0</text>
<line x1="62.8" y1="339.7" x2="66" y2="339.7" stroke="#000" stroke-width="1.4"/>
<text x="58.3" y="344.2" font-size="12" text-anchor="end">0.5</text>
<line x1="62.8" y1="296.8" x2="66" y2="296.8" stroke="#000" stroke-width="1.4"/>
<text x="58.3" y="301.3" font-size="12" text-anchor="end">1.0</text>
<line x1="62.8" y1="253.9" x2="66" y2="253.9" stroke="#000" stroke-width="1.4"/>
<text x="58.3" y="258.4" font-size="12" text-anchor="end">1.5</text>
<line x1="62.8" y1="211.1" x2="66" y2="211.1" stroke="#000" stroke-width="1.4"/>
<text x="58.3" y="215.6" font-size="12" text-anchor="end">2.0</text>
<line x1="74.62" y1="382.5" x2="74.62" y2="385.5" stroke="#000" stroke-width="1.3"/>
<text x="73.95" y="394.8" font-size="11.6" text-anchor="middle">A</text>
<line x1="88.10" y1="382.5" x2="88.10" y2="385.5" stroke="#000" stroke-width="1.3"/>
<text x="87.48" y="394.8" font-size="11.6" text-anchor="middle">1</text>
<line x1="101.58" y1="382.5" x2="101.58" y2="385.5" stroke="#000" stroke-width="1.3"/>
<text x="101.00" y="394.8" font-size="11.6" text-anchor="middle">2</text>
<line x1="115.05" y1="382.5" x2="115.05" y2="385.5" stroke="#000" stroke-width="1.3"/>
<text x="114.53" y="394.8" font-size="11.6" text-anchor="middle">3</text>
<line x1="128.53" y1="382.5" x2="128.53" y2="385.5" stroke="#000" stroke-width="1.3"/>
<text x="128.05" y="394.8" font-size="11.6" text-anchor="middle">4</text>
<line x1="142.01" y1="382.5" x2="142.01" y2="385.5" stroke="#000" stroke-width="1.3"/>
<text x="141.58" y="394.8" font-size="11.6" text-anchor="middle">5</text>
<line x1="155.49" y1="382.5" x2="155.49" y2="385.5" stroke="#000" stroke-width="1.3"/>
<text x="155.11" y="394.8" font-size="11.6" text-anchor="middle">6</text>
<line x1="168.96" y1="382.5" x2="168.96" y2="385.5" stroke="#000" stroke-width="1.3"/>
<text x="168.63" y="394.8" font-size="11.6" text-anchor="middle">7</text>
<line x1="182.44" y1="382.5" x2="182.44" y2="385.5" stroke="#000" stroke-width="1.3"/>
<text x="182.16" y="394.8" font-size="11.6" text-anchor="middle">8</text>
<line x1="195.92" y1="382.5" x2="195.92" y2="385.5" stroke="#000" stroke-width="1.3"/>
<text x="195.68" y="394.8" font-size="11.6" text-anchor="middle">9</text>
<line x1="209.40" y1="382.5" x2="209.40" y2="385.5" stroke="#000" stroke-width="1.3"/>
<text x="209.21" y="394.8" font-size="11.6" text-anchor="middle">10</text>
<line x1="222.88" y1="382.5" x2="222.88" y2="385.5" stroke="#000" stroke-width="1.3"/>
<text x="222.74" y="394.8" font-size="11.6" text-anchor="middle">11</text>
<line x1="236.35" y1="382.5" x2="236.35" y2="385.5" stroke="#000" stroke-width="1.3"/>
<text x="236.26" y="394.8" font-size="11.6" text-anchor="middle">13</text>
<line x1="249.83" y1="382.5" x2="249.83" y2="385.5" stroke="#000" stroke-width="1.3"/>
<text x="249.79" y="394.8" font-size="11.6" text-anchor="middle">14</text>
<line x1="263.31" y1="382.5" x2="263.31" y2="385.5" stroke="#000" stroke-width="1.3"/>
<text x="263.31" y="394.8" font-size="11.6" text-anchor="middle">15</text>
<line x1="276.79" y1="382.5" x2="276.79" y2="385.5" stroke="#000" stroke-width="1.3"/>
<text x="276.84" y="394.8" font-size="11.6" text-anchor="middle">16</text>
<line x1="290.26" y1="382.5" x2="290.26" y2="385.5" stroke="#000" stroke-width="1.3"/>
<text x="290.37" y="394.8" font-size="11.6" text-anchor="middle">17</text>
<line x1="303.74" y1="382.5" x2="303.74" y2="385.5" stroke="#000" stroke-width="1.3"/>
<text x="303.89" y="394.8" font-size="11.6" text-anchor="middle">18</text>
<line x1="317.22" y1="382.5" x2="317.22" y2="385.5" stroke="#000" stroke-width="1.3"/>
<text x="317.42" y="394.8" font-size="11.6" text-anchor="middle">19</text>
<line x1="330.70" y1="382.5" x2="330.70" y2="385.5" stroke="#000" stroke-width="1.3"/>
<text x="330.94" y="394.8" font-size="11.6" text-anchor="middle">20</text>
<line x1="344.18" y1="382.5" x2="344.18" y2="385.5" stroke="#000" stroke-width="1.3"/>
<text x="344.47" y="394.8" font-size="11.6" text-anchor="middle">23</text>
<line x1="357.65" y1="382.5" x2="357.65" y2="385.5" stroke="#000" stroke-width="1.3"/>
<text x="358.00" y="394.8" font-size="11.6" text-anchor="middle">25</text>
<line x1="371.13" y1="382.5" x2="371.13" y2="385.5" stroke="#000" stroke-width="1.3"/>
<text x="371.52" y="394.8" font-size="11.6" text-anchor="middle">26</text>
<line x1="384.61" y1="382.5" x2="384.61" y2="385.5" stroke="#000" stroke-width="1.3"/>
<text x="385.05" y="394.8" font-size="11.6" text-anchor="middle">27</text>
<line x1="398.09" y1="382.5" x2="398.09" y2="385.5" stroke="#000" stroke-width="1.3"/>
<text x="398.57" y="394.8" font-size="11.6" text-anchor="middle">28</text>
<line x1="411.56" y1="382.5" x2="411.56" y2="385.5" stroke="#000" stroke-width="1.3"/>
<text x="412.10" y="394.8" font-size="11.6" text-anchor="middle">29</text>
<line x1="425.04" y1="382.5" x2="425.04" y2="385.5" stroke="#000" stroke-width="1.3"/>
<text x="425.63" y="394.8" font-size="11.6" text-anchor="middle">30</text>
<line x1="438.52" y1="382.5" x2="438.52" y2="385.5" stroke="#000" stroke-width="1.3"/>
<text x="439.15" y="394.8" font-size="11.6" text-anchor="middle">31</text>
<line x1="452.00" y1="382.5" x2="452.00" y2="385.5" stroke="#000" stroke-width="1.3"/>
<text x="452.68" y="394.8" font-size="11.6" text-anchor="middle">32</text>
<line x1="465.48" y1="382.5" x2="465.48" y2="385.5" stroke="#000" stroke-width="1.3"/>
<text x="466.20" y="394.8" font-size="11.6" text-anchor="middle">33</text>
<line x1="478.95" y1="382.5" x2="478.95" y2="385.5" stroke="#000" stroke-width="1.3"/>
<text x="479.73" y="394.8" font-size="11.6" text-anchor="middle">34</text>
<line x1="492.43" y1="382.5" x2="492.43" y2="385.5" stroke="#000" stroke-width="1.3"/>
<text x="493.26" y="394.8" font-size="11.6" text-anchor="middle">35</text>
<line x1="505.91" y1="382.5" x2="505.91" y2="385.5" stroke="#000" stroke-width="1.3"/>
<text x="506.78" y="394.8" font-size="11.6" text-anchor="middle">37</text>
<line x1="519.39" y1="382.5" x2="519.39" y2="385.5" stroke="#000" stroke-width="1.3"/>
<text x="520.31" y="394.8" font-size="11.6" text-anchor="middle">38</text>
<line x1="532.87" y1="382.5" x2="532.87" y2="385.5" stroke="#000" stroke-width="1.3"/>
<text x="533.83" y="394.8" font-size="11.6" text-anchor="middle">39</text>
<line x1="546.34" y1="382.5" x2="546.34" y2="385.5" stroke="#000" stroke-width="1.3"/>
<text x="547.36" y="394.8" font-size="11.6" text-anchor="middle">40</text>
<line x1="559.82" y1="382.5" x2="559.82" y2="385.5" stroke="#000" stroke-width="1.3"/>
<text x="560.89" y="394.8" font-size="11.6" text-anchor="middle">41</text>
<line x1="573.30" y1="382.5" x2="573.30" y2="385.5" stroke="#000" stroke-width="1.3"/>
<text x="574.41" y="394.8" font-size="11.6" text-anchor="middle">42</text>
<line x1="586.78" y1="382.5" x2="586.78" y2="385.5" stroke="#000" stroke-width="1.3"/>
<text x="587.94" y="394.8" font-size="11.6" text-anchor="middle">43</text>
<line x1="600.25" y1="382.5" x2="600.25" y2="385.5" stroke="#000" stroke-width="1.3"/>
<text x="601.46" y="394.8" font-size="11.6" text-anchor="middle">44</text>
<line x1="613.73" y1="382.5" x2="613.73" y2="385.5" stroke="#000" stroke-width="1.3"/>
<text x="614.99" y="394.8" font-size="11.6" text-anchor="middle">45</text>
<line x1="627.21" y1="382.5" x2="627.21" y2="385.5" stroke="#000" stroke-width="1.3"/>
<text x="628.52" y="394.8" font-size="11.6" text-anchor="middle">46</text>
<line x1="640.69" y1="382.5" x2="640.69" y2="385.5" stroke="#000" stroke-width="1.3"/>
<text x="642.04" y="394.8" font-size="11.6" text-anchor="middle">47</text>
<line x1="74.62" y1="287.80" x2="74.62" y2="296.20" stroke="#000" stroke-width="1.6"/>
<line x1="74.62" y1="305.80" x2="74.62" y2="306.60" stroke="#000" stroke-width="1.6"/>
<rect x="69.57" y="297.10" width="10.10" height="7.80" fill="#f0f0f0" stroke="#000" stroke-width="1.8"/>
<line x1="69.57" y1="301.60" x2="79.67" y2="301.60" stroke="#000" stroke-width="1.8"/>
<circle cx="74.62" cy="287.80" r="2.0"/>
<circle cx="74.62" cy="289.60" r="2.0"/>
<circle cx="74.62" cy="292.00" r="2.0"/>
<circle cx="74.62" cy="299.20" r="2.0"/>
<circle cx="74.62" cy="303.40" r="2.0"/>
<circle cx="74.62" cy="306.60" r="2.0"/>
<circle cx="74.62" cy="325.40" r="2.0"/>
<line x1="88.10" y1="291.40" x2="88.10" y2="296.00" stroke="#000" stroke-width="1.6"/>
<rect x="83.05" y="296.90" width="10.10" height="8.20" fill="#0a0aa0" stroke="#000" stroke-width="1.8"/>
<line x1="83.05" y1="304.20" x2="93.15" y2="304.20" stroke="#000" stroke-width="1.8"/>
<circle cx="88.10" cy="291.40" r="2.0"/>
<circle cx="88.10" cy="304.60" r="2.0"/>
<line x1="101.58" y1="295.30" x2="101.58" y2="298.30" stroke="#000" stroke-width="1.6"/>
<rect x="96.53" y="299.20" width="10.10" height="3.90" fill="#0a0aa0" stroke="#000" stroke-width="1.8"/>
<line x1="96.53" y1="300.90" x2="106.63" y2="300.90" stroke="#000" stroke-width="1.8"/>
<circle cx="101.58" cy="295.30" r="2.0"/>
<circle cx="101.58" cy="301.50" r="2.0"/>
<circle cx="101.58" cy="310.40" r="2.0"/>
<line x1="115.05" y1="298.50" x2="115.05" y2="298.80" stroke="#000" stroke-width="1.6"/>
<line x1="115.05" y1="311.60" x2="115.05" y2="312.80" stroke="#000" stroke-width="1.6"/>
<rect x="110.00" y="299.70" width="10.10" height="11.00" fill="#0a0aa0" stroke="#000" stroke-width="1.8"/>
<line x1="110.00" y1="304.90" x2="120.10" y2="304.90" stroke="#000" stroke-width="1.8"/>
<circle cx="115.05" cy="298.50" r="2.0"/>
<circle cx="115.05" cy="310.50" r="2.0"/>
<circle cx="115.05" cy="312.80" r="2.0"/>
<line x1="128.53" y1="295.10" x2="128.53" y2="299.60" stroke="#000" stroke-width="1.6"/>
<rect x="123.48" y="300.50" width="10.10" height="1.20" fill="#0a0aa0" stroke="#000" stroke-width="1.8"/>
<line x1="123.48" y1="301.00" x2="133.58" y2="301.00" stroke="#000" stroke-width="1.8"/>
<circle cx="128.53" cy="295.10" r="2.0"/>
<circle cx="128.53" cy="299.50" r="2.0"/>
<circle cx="128.53" cy="301.50" r="2.0"/>
<circle cx="128.53" cy="306.80" r="2.0"/>
<line x1="142.01" y1="294.40" x2="142.01" y2="296.80" stroke="#000" stroke-width="1.6"/>
<line x1="142.01" y1="302.60" x2="142.01" y2="305.30" stroke="#000" stroke-width="1.6"/>
<rect x="136.96" y="297.70" width="10.10" height="4.00" fill="#0a0aa0" stroke="#000" stroke-width="1.8"/>
<line x1="136.96" y1="299.00" x2="147.06" y2="299.00" stroke="#000" stroke-width="1.8"/>
<circle cx="142.01" cy="294.40" r="2.0"/>
<circle cx="142.01" cy="299.50" r="2.0"/>
<circle cx="142.01" cy="305.30" r="2.0"/>
<line x1="155.49" y1="291.00" x2="155.49" y2="297.40" stroke="#000" stroke-width="1.6"/>
<rect x="150.44" y="298.30" width="10.10" height="3.40" fill="#0a0aa0" stroke="#000" stroke-width="1.8"/>
<line x1="150.44" y1="300.50" x2="160.54" y2="300.50" stroke="#000" stroke-width="1.8"/>
<circle cx="155.49" cy="291.00" r="2.0"/>
<circle cx="155.49" cy="297.50" r="2.0"/>
<circle cx="155.49" cy="301.00" r="2.0"/>
<line x1="168.96" y1="298.90" x2="168.96" y2="301.90" stroke="#000" stroke-width="1.6"/>
<line x1="168.96" y1="308.20" x2="168.96" y2="310.30" stroke="#000" stroke-width="1.6"/>
<rect x="163.91" y="302.80" width="10.10" height="4.50" fill="#0a0aa0" stroke="#000" stroke-width="1.8"/>
<line x1="163.91" y1="305.00" x2="174.01" y2="305.00" stroke="#000" stroke-width="1.8"/>
<circle cx="168.96" cy="298.90" r="2.0"/>
<circle cx="168.96" cy="302.50" r="2.0"/>
<circle cx="168.96" cy="306.00" r="2.0"/>
<circle cx="168.96" cy="310.30" r="2.0"/>
<line x1="182.44" y1="295.20" x2="182.44" y2="301.00" stroke="#000" stroke-width="1.6"/>
<line x1="182.44" y1="308.20" x2="182.44" y2="312.00" stroke="#000" stroke-width="1.6"/>
<rect x="177.39" y="301.90" width="10.10" height="5.40" fill="#0a0aa0" stroke="#000" stroke-width="1.8"/>
<line x1="177.39" y1="304.20" x2="187.49" y2="304.20" stroke="#000" stroke-width="1.8"/>
<circle cx="182.44" cy="295.20" r="2.0"/>
<circle cx="182.44" cy="299.00" r="2.0"/>
<circle cx="182.44" cy="306.00" r="2.0"/>
<circle cx="182.44" cy="312.00" r="2.0"/>
<line x1="195.92" y1="299.80" x2="195.92" y2="302.00" stroke="#000" stroke-width="1.6"/>
<line x1="195.92" y1="305.30" x2="195.92" y2="307.00" stroke="#000" stroke-width="1.6"/>
<rect x="190.87" y="302.90" width="10.10" height="1.50" fill="#0a0aa0" stroke="#000" stroke-width="1.8"/>
<line x1="190.87" y1="303.60" x2="200.97" y2="303.60" stroke="#000" stroke-width="1.8"/>
<circle cx="195.92" cy="299.80" r="2.0"/>
<circle cx="195.92" cy="303.50" r="2.0"/>
<circle cx="195.92" cy="307.00" r="2.0"/>
<line x1="209.40" y1="290.10" x2="209.40" y2="291.80" stroke="#000" stroke-width="1.6"/>
<line x1="209.40" y1="300.60" x2="209.40" y2="304.80" stroke="#000" stroke-width="1.6"/>
<rect x="204.35" y="292.70" width="10.10" height="7.00" fill="#0a0aa0" stroke="#000" stroke-width="1.8"/>
<line x1="204.35" y1="297.70" x2="214.45" y2="297.70" stroke="#000" stroke-width="1.8"/>
<circle cx="209.40" cy="290.10" r="2.0"/>
<circle cx="209.40" cy="298.10" r="2.0"/>
<circle cx="209.40" cy="304.80" r="2.0"/>
<line x1="222.88" y1="295.00" x2="222.88" y2="298.80" stroke="#000" stroke-width="1.6"/>
<rect x="217.83" y="299.70" width="10.10" height="1.10" fill="#0a0aa0" stroke="#000" stroke-width="1.8"/>
<line x1="217.83" y1="300.20" x2="227.93" y2="300.20" stroke="#000" stroke-width="1.8"/>
<circle cx="222.88" cy="295.00" r="2.0"/>
<circle cx="222.88" cy="299.00" r="2.0"/>
<circle cx="222.88" cy="301.00" r="2.0"/>
<circle cx="222.88" cy="309.80" r="2.0"/>
<line x1="236.35" y1="298.50" x2="236.35" y2="300.40" stroke="#000" stroke-width="1.6"/>
<line x1="236.35" y1="305.00" x2="236.35" y2="308.50" stroke="#000" stroke-width="1.6"/>
<rect x="231.30" y="301.30" width="10.10" height="2.80" fill="#0a0aa0" stroke="#000" stroke-width="1.8"/>
<line x1="231.30" y1="302.70" x2="241.40" y2="302.70" stroke="#000" stroke-width="1.8"/>
<circle cx="236.35" cy="298.50" r="2.0"/>
<circle cx="236.35" cy="302.00" r="2.0"/>
<circle cx="236.35" cy="305.00" r="2.0"/>
<circle cx="236.35" cy="308.50" r="2.0"/>
<circle cx="236.35" cy="279.20" r="2.0"/>
<line x1="249.83" y1="284.10" x2="249.83" y2="290.40" stroke="#000" stroke-width="1.6"/>
<line x1="249.83" y1="303.40" x2="249.83" y2="311.00" stroke="#000" stroke-width="1.6"/>
<rect x="244.78" y="291.30" width="10.10" height="11.20" fill="#0a0aa0" stroke="#000" stroke-width="1.8"/>
<line x1="244.78" y1="296.60" x2="254.88" y2="296.60" stroke="#000" stroke-width="1.8"/>
<circle cx="249.83" cy="284.10" r="2.0"/>
<circle cx="249.83" cy="292.50" r="2.0"/>
<circle cx="249.83" cy="311.00" r="2.0"/>
<line x1="263.31" y1="294.20" x2="263.31" y2="298.20" stroke="#000" stroke-width="1.6"/>
<rect x="258.26" y="299.10" width="10.10" height="14.60" fill="#0a0aa0" stroke="#000" stroke-width="1.8"/>
<line x1="258.26" y1="300.60" x2="268.36" y2="300.60" stroke="#000" stroke-width="1.8"/>
<circle cx="263.31" cy="294.20" r="2.0"/>
<circle cx="263.31" cy="303.80" r="2.0"/>
<circle cx="263.31" cy="313.50" r="2.0"/>
<circle cx="263.31" cy="340.30" r="2.0"/>
<line x1="276.79" y1="303.00" x2="276.79" y2="304.50" stroke="#000" stroke-width="1.6"/>
<line x1="276.79" y1="307.30" x2="276.79" y2="308.00" stroke="#000" stroke-width="1.6"/>
<rect x="271.74" y="305.40" width="10.10" height="1.00" fill="#0a0aa0" stroke="#000" stroke-width="1.8"/>
<line x1="271.74" y1="305.90" x2="281.84" y2="305.90" stroke="#000" stroke-width="1.8"/>
<circle cx="276.79" cy="303.00" r="2.0"/>
<circle cx="276.79" cy="305.50" r="2.0"/>
<circle cx="276.79" cy="308.00" r="2.0"/>
<circle cx="276.79" cy="293.50" r="2.0"/>
<line x1="290.26" y1="291.00" x2="290.26" y2="293.90" stroke="#000" stroke-width="1.6"/>
<rect x="285.21" y="294.80" width="10.10" height="10.10" fill="#0a0aa0" stroke="#000" stroke-width="1.8"/>
<line x1="285.21" y1="298.60" x2="295.31" y2="298.60" stroke="#000" stroke-width="1.8"/>
<circle cx="290.26" cy="291.00" r="2.0"/>
<circle cx="290.26" cy="294.00" r="2.0"/>
<circle cx="290.26" cy="299.00" r="2.0"/>
<circle cx="290.26" cy="305.00" r="2.0"/>
<circle cx="290.26" cy="330.90" r="2.0"/>
<line x1="303.74" y1="299.00" x2="303.74" y2="299.40" stroke="#000" stroke-width="1.6"/>
<rect x="298.69" y="300.30" width="10.10" height="4.90" fill="#0a0aa0" stroke="#000" stroke-width="1.8"/>
<line x1="298.69" y1="302.80" x2="308.79" y2="302.80" stroke="#000" stroke-width="1.8"/>
<circle cx="303.74" cy="299.00" r="2.0"/>
<circle cx="303.74" cy="303.00" r="2.0"/>
<circle cx="303.74" cy="306.10" r="2.0"/>
<circle cx="303.74" cy="285.10" r="2.0"/>
<line x1="317.22" y1="298.00" x2="317.22" y2="298.60" stroke="#000" stroke-width="1.6"/>
<line x1="317.22" y1="305.80" x2="317.22" y2="306.00" stroke="#000" stroke-width="1.6"/>
<rect x="312.17" y="299.50" width="10.10" height="5.40" fill="#0a0aa0" stroke="#000" stroke-width="1.8"/>
<line x1="312.17" y1="302.00" x2="322.27" y2="302.00" stroke="#000" stroke-width="1.8"/>
<circle cx="317.22" cy="298.00" r="2.0"/>
<circle cx="317.22" cy="302.00" r="2.0"/>
<circle cx="317.22" cy="306.00" r="2.0"/>
<circle cx="317.22" cy="287.60" r="2.0"/>
<circle cx="317.22" cy="315.10" r="2.0"/>
<line x1="330.70" y1="291.50" x2="330.70" y2="296.90" stroke="#000" stroke-width="1.6"/>
<rect x="325.65" y="297.80" width="10.10" height="3.60" fill="#0a0aa0" stroke="#000" stroke-width="1.8"/>
<line x1="325.65" y1="299.80" x2="335.75" y2="299.80" stroke="#000" stroke-width="1.8"/>
<circle cx="330.70" cy="291.50" r="2.0"/>
<circle cx="330.70" cy="297.00" r="2.0"/>
<circle cx="330.70" cy="298.60" r="2.0"/>
<circle cx="330.70" cy="301.70" r="2.0"/>
<circle cx="330.70" cy="285.40" r="2.0"/>
<line x1="344.18" y1="291.80" x2="344.18" y2="296.00" stroke="#000" stroke-width="1.6"/>
<line x1="344.18" y1="303.30" x2="344.18" y2="311.70" stroke="#000" stroke-width="1.6"/>
<rect x="339.13" y="296.90" width="10.10" height="5.50" fill="#0a0aa0" stroke="#000" stroke-width="1.8"/>
<line x1="339.13" y1="300.00" x2="349.23" y2="300.00" stroke="#000" stroke-width="1.8"/>
<circle cx="344.18" cy="291.80" r="2.0"/>
<circle cx="344.18" cy="297.00" r="2.0"/>
<circle cx="344.18" cy="300.00" r="2.0"/>
<circle cx="344.18" cy="303.00" r="2.0"/>
<circle cx="344.18" cy="311.70" r="2.0"/>
<circle cx="344.18" cy="272.00" r="2.0"/>
<line x1="357.65" y1="213.50" x2="357.65" y2="230.40" stroke="#000" stroke-width="1.6"/>
<line x1="357.65" y1="277.90" x2="357.65" y2="304.20" stroke="#000" stroke-width="1.6"/>
<rect x="352.60" y="231.30" width="10.10" height="45.70" fill="#8b0000" stroke="#000" stroke-width="1.8"/>
<line x1="352.60" y1="260.60" x2="362.70" y2="260.60" stroke="#000" stroke-width="1.8"/>
<circle cx="357.65" cy="213.50" r="2.0"/>
<circle cx="357.65" cy="229.20" r="2.0"/>
<circle cx="357.65" cy="258.70" r="2.0"/>
<circle cx="357.65" cy="276.90" r="2.0"/>
<circle cx="357.65" cy="304.20" r="2.0"/>
<line x1="371.13" y1="314.20" x2="371.13" y2="318.10" stroke="#000" stroke-width="1.6"/>
<rect x="366.08" y="289.20" width="10.10" height="24.10" fill="#8b0000" stroke="#000" stroke-width="1.8"/>
<line x1="366.08" y1="309.40" x2="376.18" y2="309.40" stroke="#000" stroke-width="1.8"/>
<circle cx="371.13" cy="303.10" r="2.0"/>
<circle cx="371.13" cy="310.40" r="2.0"/>
<circle cx="371.13" cy="318.10" r="2.0"/>
<circle cx="371.13" cy="240.80" r="2.0"/>
<line x1="384.61" y1="290.20" x2="384.61" y2="294.60" stroke="#000" stroke-width="1.6"/>
<rect x="379.56" y="295.50" width="10.10" height="2.10" fill="#8b0000" stroke="#000" stroke-width="1.8"/>
<line x1="379.56" y1="296.50" x2="389.66" y2="296.50" stroke="#000" stroke-width="1.8"/>
<circle cx="384.61" cy="290.20" r="2.0"/>
<circle cx="384.61" cy="296.00" r="2.0"/>
<circle cx="384.61" cy="298.00" r="2.0"/>
<line x1="398.09" y1="212.50" x2="398.09" y2="260.60" stroke="#000" stroke-width="1.6"/>
<line x1="398.09" y1="304.60" x2="398.09" y2="310.40" stroke="#000" stroke-width="1.6"/>
<rect x="393.04" y="261.50" width="10.10" height="42.20" fill="#8b0000" stroke="#000" stroke-width="1.8"/>
<line x1="393.04" y1="289.60" x2="403.14" y2="289.60" stroke="#000" stroke-width="1.8"/>
<circle cx="398.09" cy="212.50" r="2.0"/>
<circle cx="398.09" cy="274.80" r="2.0"/>
<circle cx="398.09" cy="299.80" r="2.0"/>
<circle cx="398.09" cy="310.40" r="2.0"/>
<line x1="411.56" y1="261.90" x2="411.56" y2="281.90" stroke="#000" stroke-width="1.6"/>
<line x1="411.56" y1="299.80" x2="411.56" y2="322.30" stroke="#000" stroke-width="1.6"/>
<rect x="406.51" y="282.80" width="10.10" height="16.10" fill="#8b0000" stroke="#000" stroke-width="1.8"/>
<line x1="406.51" y1="295.00" x2="416.62" y2="295.00" stroke="#000" stroke-width="1.8"/>
<circle cx="411.56" cy="261.90" r="2.0"/>
<circle cx="411.56" cy="295.00" r="2.0"/>
<circle cx="411.56" cy="322.30" r="2.0"/>
<line x1="425.04" y1="290.20" x2="425.04" y2="297.90" stroke="#000" stroke-width="1.6"/>
<line x1="425.04" y1="306.50" x2="425.04" y2="309.40" stroke="#000" stroke-width="1.6"/>
<rect x="419.99" y="298.80" width="10.10" height="6.80" fill="#8b0000" stroke="#000" stroke-width="1.8"/>
<line x1="419.99" y1="301.70" x2="430.09" y2="301.70" stroke="#000" stroke-width="1.8"/>
<circle cx="425.04" cy="290.20" r="2.0"/>
<circle cx="425.04" cy="298.00" r="2.0"/>
<circle cx="425.04" cy="303.00" r="2.0"/>
<circle cx="425.04" cy="309.40" r="2.0"/>
<line x1="438.52" y1="300.40" x2="438.52" y2="305.60" stroke="#000" stroke-width="1.6"/>
<line x1="438.52" y1="322.30" x2="438.52" y2="333.10" stroke="#000" stroke-width="1.6"/>
<rect x="433.47" y="306.50" width="10.10" height="14.90" fill="#8b0000" stroke="#000" stroke-width="1.8"/>
<line x1="433.47" y1="309.40" x2="443.57" y2="309.40" stroke="#000" stroke-width="1.8"/>
<circle cx="438.52" cy="300.40" r="2.0"/>
<circle cx="438.52" cy="333.10" r="2.0"/>
<line x1="452.00" y1="294.60" x2="452.00" y2="296.90" stroke="#000" stroke-width="1.6"/>
<line x1="452.00" y1="300.80" x2="452.00" y2="302.70" stroke="#000" stroke-width="1.6"/>
<rect x="446.95" y="297.80" width="10.10" height="2.10" fill="#8b0000" stroke="#000" stroke-width="1.8"/>
<line x1="446.95" y1="298.80" x2="457.05" y2="298.80" stroke="#000" stroke-width="1.8"/>
<circle cx="452.00" cy="294.60" r="2.0"/>
<circle cx="452.00" cy="298.00" r="2.0"/>
<circle cx="452.00" cy="302.70" r="2.0"/>
<circle cx="452.00" cy="272.90" r="2.0"/>
<line x1="465.48" y1="291.00" x2="465.48" y2="292.30" stroke="#000" stroke-width="1.6"/>
<line x1="465.48" y1="299.20" x2="465.48" y2="300.60" stroke="#000" stroke-width="1.6"/>
<rect x="460.43" y="293.20" width="10.10" height="5.10" fill="#8b0000" stroke="#000" stroke-width="1.8"/>
<line x1="460.43" y1="295.70" x2="470.53" y2="295.70" stroke="#000" stroke-width="1.8"/>
<circle cx="465.48" cy="291.00" r="2.0"/>
<circle cx="465.48" cy="296.00" r="2.0"/>
<circle cx="465.48" cy="300.60" r="2.0"/>
<line x1="478.95" y1="255.00" x2="478.95" y2="258.80" stroke="#000" stroke-width="1.6"/>
<line x1="478.95" y1="302.20" x2="478.95" y2="339.00" stroke="#000" stroke-width="1.6"/>
<rect x="473.90" y="259.70" width="10.10" height="41.60" fill="#8b0000" stroke="#000" stroke-width="1.8"/>
<line x1="473.90" y1="274.80" x2="484.00" y2="274.80" stroke="#000" stroke-width="1.8"/>
<circle cx="478.95" cy="255.00" r="2.0"/>
<circle cx="478.95" cy="288.30" r="2.0"/>
<circle cx="478.95" cy="339.00" r="2.0"/>
<line x1="492.43" y1="228.10" x2="492.43" y2="249.60" stroke="#000" stroke-width="1.6"/>
<line x1="492.43" y1="284.60" x2="492.43" y2="286.50" stroke="#000" stroke-width="1.6"/>
<rect x="487.38" y="250.50" width="10.10" height="33.20" fill="#8b0000" stroke="#000" stroke-width="1.8"/>
<line x1="487.38" y1="266.90" x2="497.48" y2="266.90" stroke="#000" stroke-width="1.8"/>
<circle cx="492.43" cy="228.10" r="2.0"/>
<circle cx="492.43" cy="264.60" r="2.0"/>
<circle cx="492.43" cy="282.70" r="2.0"/>
<circle cx="492.43" cy="286.50" r="2.0"/>
<line x1="505.91" y1="238.30" x2="505.91" y2="276.00" stroke="#000" stroke-width="1.6"/>
<line x1="505.91" y1="319.80" x2="505.91" y2="337.10" stroke="#000" stroke-width="1.6"/>
<rect x="500.86" y="276.90" width="10.10" height="42.00" fill="#8b0000" stroke="#000" stroke-width="1.8"/>
<line x1="500.86" y1="300.50" x2="510.96" y2="300.50" stroke="#000" stroke-width="1.8"/>
<circle cx="505.91" cy="238.30" r="2.0"/>
<circle cx="505.91" cy="287.20" r="2.0"/>
<circle cx="505.91" cy="312.10" r="2.0"/>
<circle cx="505.91" cy="337.10" r="2.0"/>
<line x1="519.39" y1="291.00" x2="519.39" y2="292.20" stroke="#000" stroke-width="1.6"/>
<line x1="519.39" y1="312.10" x2="519.39" y2="314.60" stroke="#000" stroke-width="1.6"/>
<rect x="514.34" y="293.10" width="10.10" height="18.10" fill="#8b0000" stroke="#000" stroke-width="1.8"/>
<line x1="514.34" y1="307.30" x2="524.44" y2="307.30" stroke="#000" stroke-width="1.8"/>
<circle cx="519.39" cy="291.00" r="2.0"/>
<circle cx="519.39" cy="305.40" r="2.0"/>
<circle cx="519.39" cy="308.30" r="2.0"/>
<circle cx="519.39" cy="314.60" r="2.0"/>
<circle cx="519.39" cy="223.50" r="2.0"/>
<line x1="532.87" y1="265.10" x2="532.87" y2="275.80" stroke="#000" stroke-width="1.6"/>
<rect x="527.82" y="276.70" width="10.10" height="9.00" fill="#8b0000" stroke="#000" stroke-width="1.8"/>
<line x1="527.82" y1="281.50" x2="537.92" y2="281.50" stroke="#000" stroke-width="1.8"/>
<circle cx="532.87" cy="265.10" r="2.0"/>
<circle cx="532.87" cy="285.30" r="2.0"/>
<rect x="541.29" y="265.00" width="10.10" height="15.10" fill="#8b0000" stroke="#000" stroke-width="1.8"/>
<line x1="541.29" y1="276.50" x2="551.39" y2="276.50" stroke="#000" stroke-width="1.8"/>
<circle cx="546.34" cy="271.60" r="2.0"/>
<circle cx="546.34" cy="280.60" r="2.0"/>
<circle cx="546.34" cy="236.30" r="2.0"/>
<line x1="559.82" y1="240.90" x2="559.82" y2="263.90" stroke="#000" stroke-width="1.6"/>
<line x1="559.82" y1="303.10" x2="559.82" y2="304.40" stroke="#000" stroke-width="1.6"/>
<rect x="554.77" y="264.80" width="10.10" height="37.40" fill="#8b0000" stroke="#000" stroke-width="1.8"/>
<line x1="554.77" y1="287.10" x2="564.87" y2="287.10" stroke="#000" stroke-width="1.8"/>
<circle cx="559.82" cy="240.90" r="2.0"/>
<circle cx="559.82" cy="270.40" r="2.0"/>
<circle cx="559.82" cy="301.20" r="2.0"/>
<circle cx="559.82" cy="304.40" r="2.0"/>
<line x1="573.30" y1="290.70" x2="573.30" y2="291.60" stroke="#000" stroke-width="1.6"/>
<line x1="573.30" y1="306.70" x2="573.30" y2="311.00" stroke="#000" stroke-width="1.6"/>
<rect x="568.25" y="292.50" width="10.10" height="13.30" fill="#8b0000" stroke="#000" stroke-width="1.8"/>
<line x1="568.25" y1="296.50" x2="578.35" y2="296.50" stroke="#000" stroke-width="1.8"/>
<circle cx="573.30" cy="290.70" r="2.0"/>
<circle cx="573.30" cy="308.40" r="2.0"/>
<circle cx="573.30" cy="311.00" r="2.0"/>
<circle cx="573.30" cy="264.70" r="2.0"/>
<line x1="586.78" y1="216.60" x2="586.78" y2="244.30" stroke="#000" stroke-width="1.6"/>
<line x1="586.78" y1="279.20" x2="586.78" y2="297.20" stroke="#000" stroke-width="1.6"/>
<rect x="581.73" y="245.20" width="10.10" height="33.10" fill="#8b0000" stroke="#000" stroke-width="1.8"/>
<line x1="581.73" y1="267.70" x2="591.83" y2="267.70" stroke="#000" stroke-width="1.8"/>
<circle cx="586.78" cy="216.60" r="2.0"/>
<circle cx="586.78" cy="265.60" r="2.0"/>
<circle cx="586.78" cy="277.70" r="2.0"/>
<circle cx="586.78" cy="297.20" r="2.0"/>
<line x1="600.25" y1="290.70" x2="600.25" y2="292.90" stroke="#000" stroke-width="1.6"/>
<rect x="595.20" y="293.80" width="10.10" height="1.20" fill="#8b0000" stroke="#000" stroke-width="1.8"/>
<line x1="595.20" y1="294.40" x2="605.30" y2="294.40" stroke="#000" stroke-width="1.8"/>
<circle cx="600.25" cy="290.70" r="2.0"/>
<circle cx="600.25" cy="303.70" r="2.0"/>
<line x1="613.73" y1="273.40" x2="613.73" y2="276.40" stroke="#000" stroke-width="1.6"/>
<line x1="613.73" y1="305.20" x2="613.73" y2="314.50" stroke="#000" stroke-width="1.6"/>
<rect x="608.68" y="277.30" width="10.10" height="27.00" fill="#8b0000" stroke="#000" stroke-width="1.8"/>
<line x1="608.68" y1="290.00" x2="618.78" y2="290.00" stroke="#000" stroke-width="1.8"/>
<circle cx="613.73" cy="273.40" r="2.0"/>
<circle cx="613.73" cy="299.80" r="2.0"/>
<circle cx="613.73" cy="314.50" r="2.0"/>
<line x1="627.21" y1="266.20" x2="627.21" y2="282.00" stroke="#000" stroke-width="1.6"/>
<line x1="627.21" y1="294.40" x2="627.21" y2="296.50" stroke="#000" stroke-width="1.6"/>
<rect x="622.16" y="282.90" width="10.10" height="10.60" fill="#8b0000" stroke="#000" stroke-width="1.8"/>
<line x1="622.16" y1="287.90" x2="632.26" y2="287.90" stroke="#000" stroke-width="1.8"/>
<circle cx="627.21" cy="266.20" r="2.0"/>
<circle cx="627.21" cy="285.70" r="2.0"/>
<circle cx="627.21" cy="296.50" r="2.0"/>
<line x1="640.69" y1="277.00" x2="640.69" y2="278.10" stroke="#000" stroke-width="1.6"/>
<rect x="635.64" y="279.00" width="10.10" height="0.40" fill="#8b0000" stroke="#000" stroke-width="1.8"/>
<line x1="635.64" y1="279.20" x2="645.74" y2="279.20" stroke="#000" stroke-width="1.8"/>
<circle cx="640.69" cy="277.00" r="2.0"/>
<circle cx="640.69" cy="279.50" r="2.0"/>
<line x1="66.4" y1="192" x2="66.4" y2="383.5" stroke="#000" stroke-width="1.9"/>
<line x1="65.5" y1="382.6" x2="649" y2="382.6" stroke="#000" stroke-width="1.9"/>
<line x1="652.6" y1="211.0" x2="656.5" y2="211.0" stroke="#000" stroke-width="1.4"/>
<line x1="652.6" y1="253.9" x2="656.5" y2="253.9" stroke="#000" stroke-width="1.4"/>
<line x1="652.6" y1="296.6" x2="656.5" y2="296.6" stroke="#000" stroke-width="1.4"/>
<line x1="652.6" y1="339.6" x2="656.5" y2="339.6" stroke="#000" stroke-width="1.4"/>
<line x1="694.5" y1="381.5" x2="694.5" y2="384.5" stroke="#000" stroke-width="1.3"/>
<line x1="754.0" y1="381.5" x2="754.0" y2="384.5" stroke="#000" stroke-width="1.3"/>
<line x1="694.6" y1="294.8" x2="694.6" y2="309.7" stroke="#111" stroke-width="1.2"/>
<rect x="671.8" y="299.2" width="46.2" height="5.0" fill="#0a0aa0" stroke="#333" stroke-width="1.3"/>
<line x1="671.8" y1="302.2" x2="718" y2="302.2" stroke="#333" stroke-width="1.3"/>
<circle cx="694.6" cy="294.8" r="1.9"/>
<circle cx="694.6" cy="296.5" r="1.9"/>
<circle cx="694.6" cy="298.2" r="1.9"/>
<circle cx="694.6" cy="299.9" r="1.9"/>
<circle cx="694.6" cy="301.6" r="1.9"/>
<circle cx="694.6" cy="303.3" r="1.9"/>
<circle cx="694.6" cy="305" r="1.9"/>
<circle cx="694.6" cy="309.7" r="1.9"/>
<line x1="753.6" y1="259.2" x2="753.6" y2="313.3" stroke="#111" stroke-width="1.3"/>
<rect x="731.4" y="278.5" width="45.7" height="16.3" fill="#8b0000" stroke="#333" stroke-width="1.3"/>
<line x1="731.4" y1="291.7" x2="777.1" y2="291.7" stroke="#333" stroke-width="1.3"/>
<circle cx="753.6" cy="259.2" r="2"/>
<circle cx="753.6" cy="261.6" r="2"/>
<circle cx="753.6" cy="266.4" r="2"/>
<circle cx="753.6" cy="273.7" r="2"/>
<circle cx="753.6" cy="277.3" r="2"/>
<circle cx="753.6" cy="284.5" r="2"/>
<circle cx="753.6" cy="286" r="2"/>
<circle cx="753.6" cy="289.3" r="2"/>
<circle cx="753.6" cy="291.7" r="2"/>
<circle cx="753.6" cy="294.1" r="2"/>
<circle cx="753.6" cy="300.1" r="2"/>
<circle cx="753.6" cy="313.3" r="2"/>
<line x1="656.8" y1="191.8" x2="656.8" y2="382.3" stroke="#000" stroke-width="1.9"/>
<line x1="656" y1="381.5" x2="794" y2="381.5" stroke="#000" stroke-width="1.9"/>
<line x1="67.1" y1="296.85" x2="800" y2="296.85" stroke="#999c9c" stroke-width="1.8" stroke-dasharray="9 4.36"/>
<text x="1.9" y="14.7" font-size="15.2" font-weight="bold">a</text>
<text x="666.2" y="14.8" font-size="15.5" font-weight="bold">b</text>
<text x="2.0" y="203.7" font-size="15.4" font-weight="bold">c</text>
<text x="666" y="203" font-size="15.5" font-weight="bold">d</text>
<text transform="translate(26.0,168.4) rotate(-90)" font-size="13.3">Biofilm formation (OD<tspan font-size="8.3" dy="4.6">550</tspan><tspan dy="-4.6">)</tspan></text>
<text transform="translate(12.0,378.3) rotate(-90)" font-size="13.3">Growth in low gas transfer/</text>
<text transform="translate(26.9,379.2) rotate(-90)" font-size="13.3">growth in high gas transfer</text>
<text x="352.2" y="413.3" font-size="11.2" text-anchor="middle">Lines</text>
<text x="694.6" y="398.2" font-size="11.2" text-anchor="middle">Low</text>
<text x="694.6" y="410.2" font-size="11.2" text-anchor="middle">Temp.</text>
<text x="754" y="398.2" font-size="11.2" text-anchor="middle">High</text>
<text x="754" y="410.2" font-size="11.2" text-anchor="middle">Temp.</text>
<text transform="translate(283.6,25.6) scale(0.979,1)" class="lg" font-size="19.4" text-anchor="end">Ancestral lines</text>
<text transform="translate(283.6,45.3) scale(0.979,1)" class="lg" font-size="19.4" text-anchor="end">Low temperature lines</text>
<text transform="translate(283.6,67.0) scale(0.979,1)" class="lg" font-size="19.4" text-anchor="end">High temperature lines</text>
<rect x="289.95" y="15.0" width="11.6" height="11.8" fill="#bdbdbd" stroke="#222" stroke-width="1.5"/>
<rect x="289.95" y="34.3" width="11.6" height="11.8" fill="#00009c" stroke="#222" stroke-width="1.5"/>
<rect x="289.95" y="55.7" width="11.6" height="12.2" fill="#900000" stroke="#222" stroke-width="1.5"/>
</svg></body></html>
